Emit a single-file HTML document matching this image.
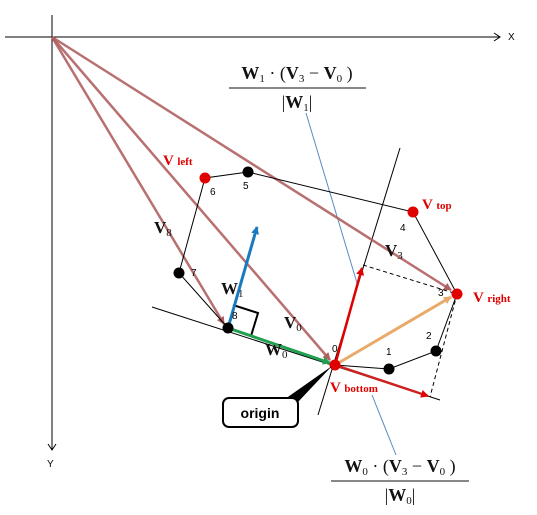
<!DOCTYPE html>
<html><head><meta charset="utf-8"><style>
body{margin:0;background:#fff}
svg{display:block}
text{font-family:"Liberation Serif",serif}
.sans{font-family:"Liberation Sans",sans-serif}
</style></head><body>
<svg width="537" height="515" viewBox="0 0 537 515">
<defs>
<marker id="ab" markerWidth="8" markerHeight="8" refX="7" refY="4" orient="auto" markerUnits="userSpaceOnUse"><path d="M0,0 L8,4 L0,8 z" fill="#b06060"/></marker>
<marker id="ar" markerWidth="8" markerHeight="8" refX="7" refY="4" orient="auto" markerUnits="userSpaceOnUse"><path d="M0,0 L8,4 L0,8 z" fill="#e00000"/></marker>
<marker id="ag" markerWidth="8" markerHeight="8" refX="7" refY="4" orient="auto" markerUnits="userSpaceOnUse"><path d="M0,0 L8,4 L0,8 z" fill="#20a050"/></marker>
<marker id="abl" markerWidth="8" markerHeight="8" refX="7" refY="4" orient="auto" markerUnits="userSpaceOnUse"><path d="M0,0 L8,4 L0,8 z" fill="#1a7abf"/></marker>
<marker id="ao" markerWidth="8" markerHeight="8" refX="7" refY="4" orient="auto" markerUnits="userSpaceOnUse"><path d="M0,0 L8,4 L0,8 z" fill="#e8a96a"/></marker>
</defs>
<line x1="5" y1="37" x2="500" y2="37" stroke="#000"/>
<path d="M494,33 L500,37 L494,41" fill="none" stroke="#000"/>
<text x="508" y="40" font-size="10" class="sans">X</text>
<line x1="52" y1="15" x2="52" y2="450" stroke="#000"/>
<path d="M48,444 L52,450 L56,444" fill="none" stroke="#000"/>
<text x="47" y="467" font-size="10" class="sans">Y</text>
<line x1="318" y1="415" x2="400" y2="148" stroke="#000" stroke-width="1"/>
<line x1="152" y1="307" x2="440" y2="400" stroke="#000" stroke-width="1"/>
<line x1="306" y1="113" x2="357" y2="283" stroke="#5a8ac0" stroke-width="1"/>
<line x1="372" y1="395" x2="396" y2="455" stroke="#5a8ac0" stroke-width="1"/>
<g stroke="#b06060" stroke-width="2.5" stroke-opacity="0.9" fill="none">
<line x1="52" y1="37" x2="224" y2="324" marker-end="url(#ab)"/>
<line x1="52" y1="37" x2="330" y2="360" marker-end="url(#ab)"/>
<line x1="52" y1="37" x2="451" y2="290" marker-end="url(#ab)"/>
</g>
<polyline points="335,365 389,369 436,351 457,294 413,212 248,172 205,178 179,273 228,328" fill="none" stroke="#000" stroke-width="1"/>
<line x1="363" y1="265" x2="457" y2="294" stroke="#000" stroke-dasharray="4,3"/>
<line x1="457" y1="294" x2="430" y2="397" stroke="#000" stroke-dasharray="4,3"/>
<path d="M233,305 L258,313 L251,336" fill="none" stroke="#000" stroke-width="2"/>
<line x1="228" y1="328" x2="257" y2="227" stroke="#1a7abf" stroke-width="3" marker-end="url(#abl)"/>
<line x1="228" y1="328" x2="330" y2="363" stroke="#20a050" stroke-width="3" marker-end="url(#ag)"/>
<line x1="335" y1="365" x2="451" y2="297" stroke="#e8a96a" stroke-width="3" marker-end="url(#ao)"/>
<line x1="335" y1="365" x2="362" y2="268" stroke="#e00000" stroke-width="2.5" marker-end="url(#ar)"/>
<line x1="335" y1="365" x2="428" y2="396" stroke="#d02020" stroke-width="2.5" marker-end="url(#ar)"/>
<g>
<circle cx="335" cy="365" r="5.5" fill="#e00000"/>
<circle cx="389" cy="369" r="5.5" fill="#000"/>
<circle cx="436" cy="351" r="5.5" fill="#000"/>
<circle cx="457" cy="294" r="5.5" fill="#e00000"/>
<circle cx="413" cy="212" r="5.5" fill="#e00000"/>
<circle cx="248" cy="172" r="5.5" fill="#000"/>
<circle cx="205" cy="178" r="5.5" fill="#e00000"/>
<circle cx="179" cy="273" r="5.5" fill="#000"/>
<circle cx="228" cy="328" r="5.5" fill="#000"/>
</g>
<g class="sans" font-size="10" fill="#000">
<text x="332" y="352" class="sans">0</text><text x="386" y="355" class="sans">1</text>
<text x="426" y="339" class="sans">2</text><text x="438" y="296" class="sans">3</text>
<text x="400" y="231" class="sans">4</text><text x="243" y="189" class="sans">5</text>
<text x="210" y="195" class="sans">6</text><text x="191" y="276" class="sans">7</text>
<text x="232" y="319" class="sans">8</text>
</g>
<g fill="#e00000" font-weight="bold">
<text x="163" y="165" font-size="15">V <tspan font-size="11">left</tspan></text>
<text x="422" y="209" font-size="15">V <tspan font-size="11">top</tspan></text>
<text x="473" y="302" font-size="15">V <tspan font-size="11">right</tspan></text>
<text x="330" y="392" font-size="15">V <tspan font-size="11">bottom</tspan></text>
</g>
<g font-weight="bold" font-size="17" fill="#111">
<text x="154" y="233">V<tspan font-size="11" font-weight="normal" dy="3">8</tspan></text>
<text x="385" y="256">V<tspan font-size="11" font-weight="normal" dy="3">3</tspan></text>
<text x="284" y="328">V<tspan font-size="11" font-weight="normal" dy="3">0</tspan></text>
<text x="221" y="294">W<tspan font-size="11" font-weight="normal" dy="3">1</tspan></text>
<text x="265" y="355">W<tspan font-size="11" font-weight="normal" dy="3">0</tspan></text>
</g>
<g font-size="18" fill="#111">
<text x="297" y="79" text-anchor="middle"><tspan font-weight="bold">W</tspan><tspan font-size="11" dy="3">1</tspan><tspan dy="-3"> · (</tspan><tspan font-weight="bold">V</tspan><tspan font-size="11" dy="3">3</tspan><tspan dy="-3">  − </tspan><tspan font-weight="bold">V</tspan><tspan font-size="11" dy="3">0</tspan><tspan dy="-3"> )</tspan></text>
<line x1="229" y1="88" x2="366" y2="88" stroke="#111"/>
<text x="297" y="108" text-anchor="middle">|<tspan font-weight="bold">W</tspan><tspan font-size="11" dy="3">1</tspan><tspan dy="-3">|</tspan></text>
</g>
<g font-size="18" fill="#111">
<text x="400" y="472" text-anchor="middle"><tspan font-weight="bold">W</tspan><tspan font-size="11" dy="3">0</tspan><tspan dy="-3"> · (</tspan><tspan font-weight="bold">V</tspan><tspan font-size="11" dy="3">3</tspan><tspan dy="-3">  − </tspan><tspan font-weight="bold">V</tspan><tspan font-size="11" dy="3">0</tspan><tspan dy="-3"> )</tspan></text>
<line x1="331" y1="481" x2="469" y2="481" stroke="#111"/>
<text x="400" y="501" text-anchor="middle">|<tspan font-weight="bold">W</tspan><tspan font-size="11" dy="3">0</tspan><tspan dy="-3">|</tspan></text>
</g>
<g>
<path d="M285,399 L332,366 L298,402 Z" fill="#000"/>
<rect x="223" y="398" width="75" height="29" rx="6" fill="#fff" stroke="#000" stroke-width="2"/>
<text x="260" y="418" text-anchor="middle" font-size="14" font-weight="bold" class="sans">origin</text>
</g>
</svg>
</body></html>
